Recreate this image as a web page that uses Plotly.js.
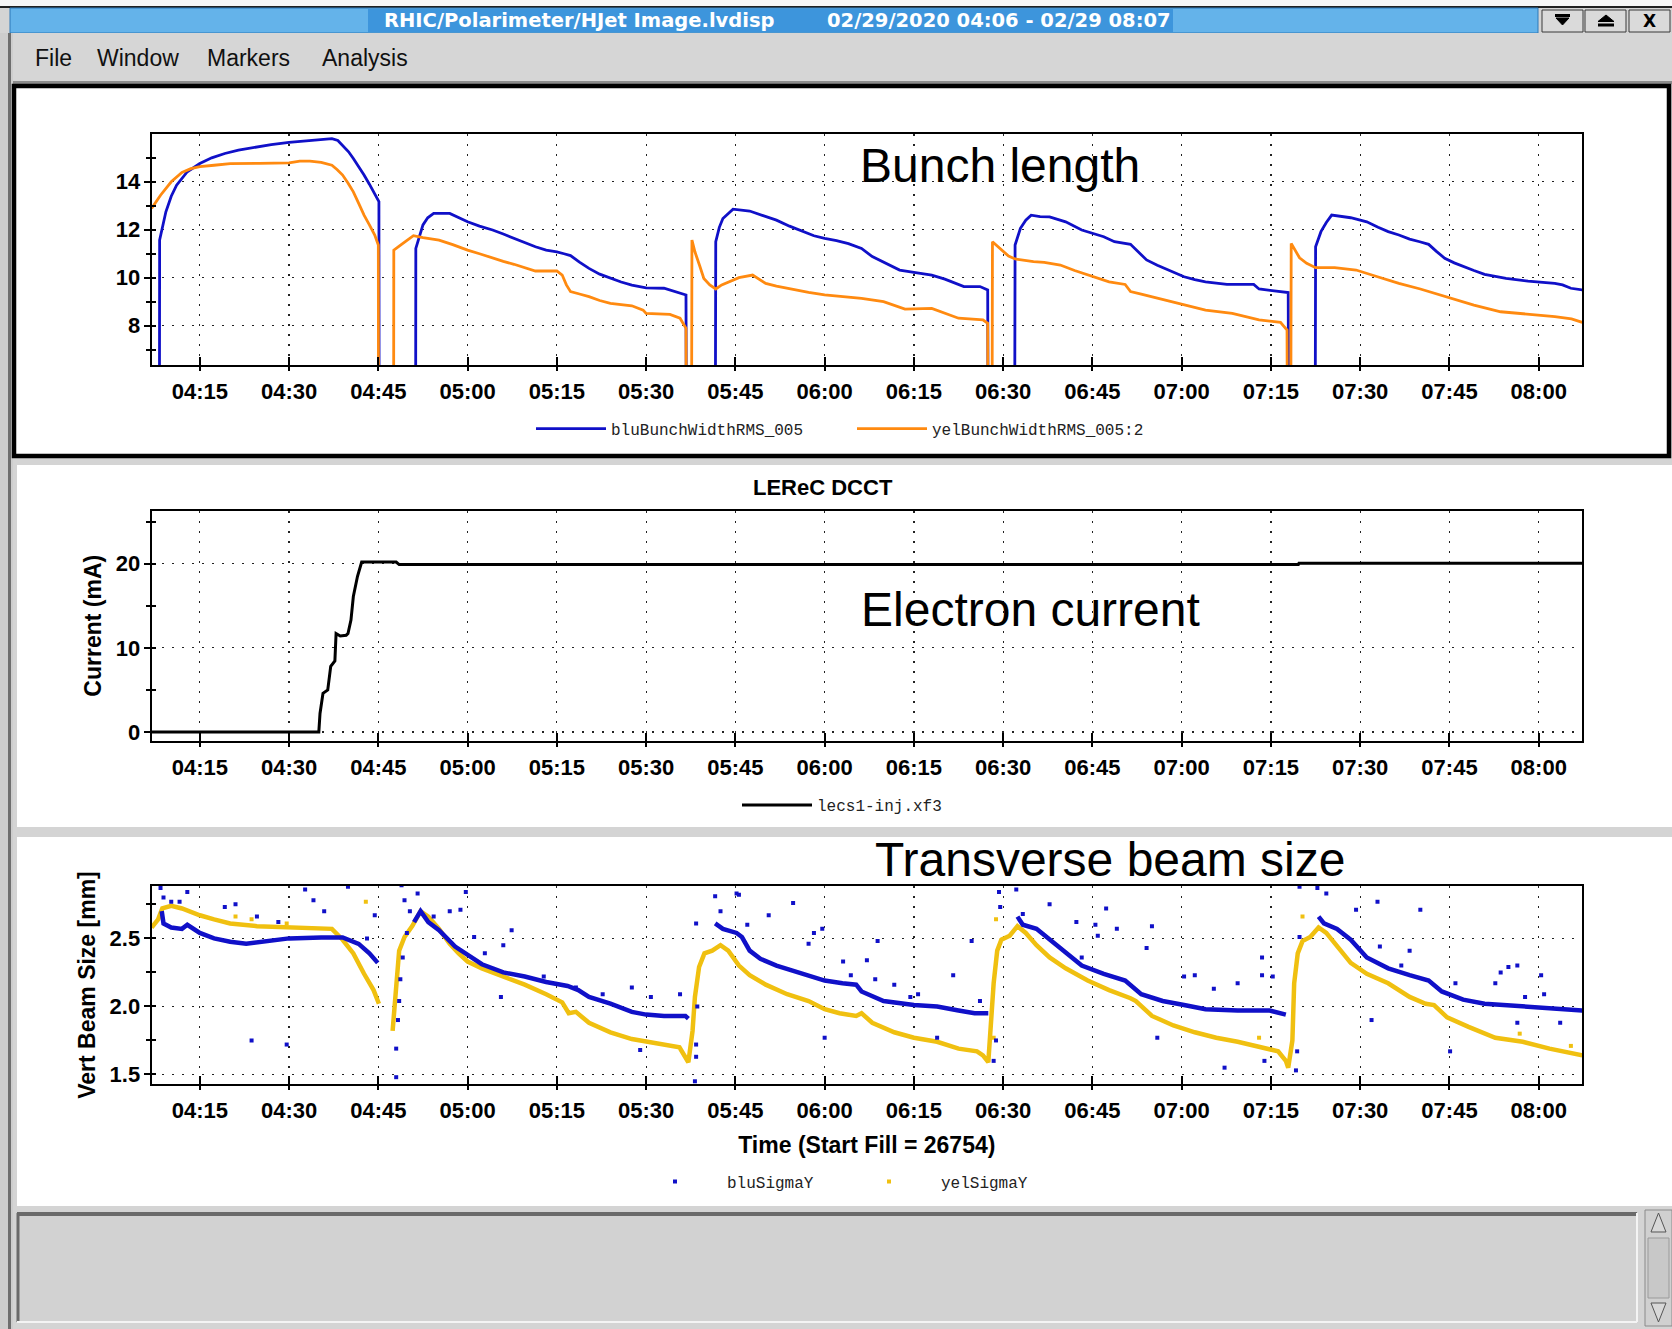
<!DOCTYPE html>
<html><head><meta charset="utf-8">
<script src="https://cdn.plot.ly/plotly-3.0.1.min.js"></script>
<style>html,body{margin:0;padding:0;background:#d4d4d4;}#chart{width:1672px;height:1329px;}</style>
</head><body><div id="chart"></div>
<script>
// ===== DATA (time = minutes after 2020-02-29 04:00) =====
const tickLabels = ['04:15','04:30','04:45','05:00','05:15','05:30','05:45','06:00','06:15','06:30','06:45','07:00','07:15','07:30','07:45','08:00'];

const bluBunchT = [6.9,8.2,8.25,9.3,10.2,11.1,12.9,15,17,19.2,21.5,23.7,27,30,33,35.4,37.2,38.2,39,40,40.8,41.7,42.6,43.5,44.4,45.1,45.15,51.25,51.3,51.8,52.5,53.3,54.3,57,58.5,60,62,64.2,66,67.8,69.6,71.4,73.2,75,76.2,77.3,78.8,80.4,82.2,84,85.8,87.6,90,93,94.8,96.7,96.8,101.6,101.7,102.3,102.9,104.6,107.4,109.6,111.9,114.1,116.4,118.2,120,122,124,126.2,128,130.2,132.6,135,138,140.2,141.8,143.4,146.1,147.4,147.5,151.9,152,152.9,153.8,154.7,156.2,157.8,160.5,163.2,166.9,168.7,171.4,172.8,174.1,175.9,177.7,180.4,182.2,184,187.6,192.1,193,195.3,197.5,197.9,198,202.4,202.5,203.4,204.3,205.2,208.4,211.1,213,214.7,216.5,218.3,220,221.5,222.8,224.2,225.8,227.3,229.1,230.9,232.7,234.5,238.2,240.5,242.7,244,245.4,247.3];
const bluBunchV = [0,0,11.57,12.75,13.4,13.86,14.42,14.76,15.0,15.18,15.32,15.42,15.55,15.64,15.72,15.78,15.8,15.72,15.53,15.25,14.97,14.65,14.28,13.9,13.51,13.17,0,0,11.22,11.6,12.2,12.5,12.68,12.68,12.5,12.33,12.15,11.99,11.82,11.64,11.45,11.29,11.15,11.08,11.0,10.92,10.65,10.39,10.15,9.97,9.82,9.69,9.58,9.56,9.42,9.28,0,0,11.5,12.1,12.47,12.86,12.78,12.6,12.4,12.15,11.92,11.75,11.64,11.55,11.42,11.22,10.88,10.6,10.32,10.22,10.11,9.94,9.78,9.63,9.63,9.49,0,0,11.36,12.06,12.4,12.61,12.55,12.54,12.33,11.99,11.71,11.5,11.39,11.05,10.74,10.52,10.32,10.04,9.92,9.83,9.72,9.72,9.53,9.47,9.42,9.38,0,0,11.29,11.92,12.3,12.61,12.5,12.33,12.1,11.92,11.78,11.61,11.5,11.39,11.1,10.81,10.62,10.46,10.3,10.14,10.05,9.97,9.86,9.82,9.76,9.7,9.56,9.49];

const yelBunchT = [6.9,8.4,10.2,12,13.5,15,17.4,20.1,25,30,31.8,33.5,35.4,37.2,38.1,39,39.9,40.8,41.7,42.6,43.5,44.4,45,45.05,47.55,47.6,48.9,50.9,52.5,55.2,57.5,60,62,64.2,66,67.8,69.6,71.4,75,75.9,76.6,77.3,78.8,80.4,82.2,84,87.6,89.5,90,94,95.7,96.7,96.8,97.6,97.7,98.2,99,99.7,100.7,101.7,102.7,103.8,105.6,107.9,110.1,111.9,113.7,117.3,120,123.5,126.2,129.9,133.5,138,140.2,142.5,146.6,147.4,147.5,148.1,148.2,149.7,150.9,152,155.1,156.9,159.6,162,164.2,167.8,170.5,171.4,173.2,175,179.5,184,188.5,190.8,193,196.6,197.7,197.8,198.3,198.4,199.8,201,202.5,205.7,209.3,212.9,216.5,220.1,224.6,229.1,233.6,238.2,242.7,245.5,247.3];
const yelBunchV = [12.89,13.44,14.0,14.39,14.55,14.63,14.69,14.76,14.77,14.79,14.86,14.86,14.81,14.69,14.5,14.28,13.95,13.58,13.1,12.61,12.2,11.78,11.36,0,0,11.15,11.39,11.75,11.67,11.57,11.38,11.15,11.0,10.81,10.68,10.56,10.42,10.28,10.28,10.11,9.7,9.42,9.32,9.21,9.05,8.93,8.83,8.65,8.51,8.47,8.31,7.89,0,0,11.57,11.08,10.5,9.97,9.7,9.53,9.7,9.81,10.0,10.11,9.76,9.65,9.56,9.39,9.28,9.2,9.14,9.0,8.69,8.72,8.51,8.31,8.24,8.1,0,0,11.5,11.15,10.9,10.78,10.67,10.64,10.53,10.3,10.11,9.83,9.72,9.42,9.32,9.21,8.93,8.65,8.51,8.38,8.24,8.14,7.82,0,0,11.43,10.83,10.6,10.42,10.42,10.32,10.04,9.76,9.53,9.21,8.86,8.58,8.47,8.38,8.28,8.14];

const dcctT = [6.9,35,35.2,35.5,35.7,36.5,37,37.7,37.9,38.6,39.6,39.9,40.4,40.8,41.5,42.2,48,48.5,199.6,199.7,247.3];
const dcctV = [0,0,2.2,3.5,4.6,5.0,7.8,8.45,11.7,11.4,11.5,11.7,13.3,16.1,18.5,20.2,20.2,19.9,19.9,20.05,20.05];

const bluSigmaT = [8.6,8.9,10.2,12,12.9,15,17.4,20.1,22.8,26.4,30,35.4,39,41.7,43.5,44.9,null,
  51.0,52.1,53.4,55.2,57.9,60,62.4,66,69.6,73.2,76.8,78.6,80.4,84,87.6,90,93,96.6,97.1,null,
  101.6,102.9,105.2,106.1,107.4,109.2,111.9,116.4,120,123,125.3,126.2,129.9,135,138.9,142.5,145.2,147.5,null,
  152.4,153.3,155.6,157.8,160.5,163.2,166.9,170.5,173.2,176.8,180.4,184,189.4,194.8,197.5,null,
  203,203.9,206.1,208.4,211.1,214.7,218.3,221.5,223.7,227.3,230.9,234.5,238.2,242.7,247.3];
const bluSigmaV = [2.70,2.61,2.58,2.57,2.6,2.54,2.5,2.475,2.46,2.48,2.5,2.507,2.507,2.46,2.39,2.32,null,
  2.62,2.7,2.62,2.56,2.44,2.38,2.31,2.25,2.22,2.18,2.15,2.12,2.07,2.02,1.96,1.94,1.93,1.93,1.91,null,
  2.61,2.57,2.54,2.51,2.41,2.35,2.3,2.24,2.19,2.17,2.16,2.11,2.04,2.01,2.0,1.97,1.95,1.95,null,
  2.66,2.6,2.57,2.49,2.39,2.3,2.24,2.19,2.09,2.04,2.01,1.98,1.97,1.97,1.94,null,
  2.66,2.61,2.57,2.49,2.36,2.28,2.23,2.19,2.11,2.05,2.02,2.01,2.0,1.98,1.97];

const yelSigmaT = [6.9,8,8.7,10.2,12,15,17.4,20.1,24.6,30,35.4,37.2,39,40.8,42.6,44.2,45.1,null,
  47.4,47.9,48.5,49.4,50.7,52.1,53.4,55.2,57,58.5,60,62.4,66,69.6,73.2,75.9,77,78.2,80.4,84,87.6,90,93,95.6,97.1,
  97.8,98.2,98.9,99.8,101.1,102.5,103.8,105.6,107.4,110.1,113.7,117.3,120,122.5,125.3,126.2,128,131.7,135,138.9,142.5,145.6,146.6,147.5,
  147.9,148.4,149,149.7,151.1,152.4,153.8,155.6,157.8,160.5,164.2,167.8,171.4,172.3,175,178.6,182.2,185.8,189.4,193,196.2,197.5,197.9,
  198.6,198.9,199.5,200.3,201.6,203,204.3,206.1,208.4,211.1,214.7,218.3,221,222.4,224.6,228.2,232.7,237.3,241.8,247.3];
const yelSigmaV = [2.58,2.64,2.72,2.74,2.72,2.67,2.64,2.61,2.59,2.58,2.57,2.57,2.49,2.39,2.24,2.12,2.02,null,
  1.82,2.14,2.41,2.51,2.59,2.7,2.66,2.57,2.46,2.39,2.33,2.28,2.22,2.16,2.09,2.03,1.95,1.96,1.88,1.81,1.76,1.74,1.72,1.7,1.59,
  1.82,2.07,2.29,2.39,2.41,2.45,2.41,2.3,2.23,2.16,2.09,2.04,1.98,1.95,1.93,1.95,1.88,1.81,1.77,1.74,1.69,1.67,1.64,1.59,
  1.9,2.17,2.41,2.49,2.52,2.59,2.54,2.45,2.36,2.28,2.19,2.12,2.06,2.04,1.93,1.86,1.81,1.77,1.74,1.7,1.67,1.6,1.55,
  1.75,2.17,2.39,2.48,2.51,2.58,2.54,2.44,2.32,2.24,2.17,2.07,2.02,2.01,1.92,1.85,1.77,1.74,1.69,1.64];

const bluOutT = [8.4,8.9,10.2,11.6,12.9,19.2,21,23.7,24.6,28.2,29.6,32.7,34.1,35.9,39.9,43.1,44.4,48,48,48.3,48.5,48.7,48.9,49.1,49.4,49.8,50.3,51.6,54.3,57,58.8,59.7,61.1,62.9,65.6,66,67.4,72.8,78.2,82.7,87.6,89,90.8,95.7,98.4,98.4,98.4,98.2,98.6,101.6,102.5,105.2,105.6,107,110.6,114.7,117.3,118.2,120,119.6,
  123.1,124.4,127.1,128.9,128.5,131.7,134.4,135.7,138.9,141.6,144.7,146.1,148.8,148.4,149.3,149.5,152.2,153.3,157.8,162.3,163.2,165.5,165.9,167.3,169.1,174.1,175,175.9,180.4,182.2,185.4,187.2,189.4,193.5,193.5,193.9,195.3,199.4,199.2,199.8,199.8,202.8,204.3,209.3,212.9,211.9,213.3,216.9,218.3,220.1,225.1,226,232.7,233.6,234.9,236.4,236.4,237.7,240.4,240.9,243.6];
const bluOutV = [2.87,2.80,2.77,2.77,2.84,2.73,2.75,1.75,2.66,2.62,1.72,2.86,2.78,2.70,2.88,2.5,2.67,1.69,1.48,1.9,2.04,2.2,2.89,2.36,2.78,2.54,2.7,2.83,2.66,2.7,2.71,2.84,2.51,2.39,2.07,2.45,2.56,2.22,2.14,2.09,2.14,1.68,2.07,2.09,2.61,1.72,1.63,1.45,2.0,2.81,2.7,2.83,2.82,2.6,2.67,2.76,2.46,2.54,1.77,2.57,
  2.33,2.23,2.34,2.48,2.2,2.16,2.07,2.09,1.77,2.23,2.48,2.04,1.75,1.6,2.84,2.73,2.86,2.68,2.75,2.62,2.36,2.60,2.52,2.72,2.57,2.43,2.59,1.77,2.22,2.23,2.13,1.55,2.17,2.36,2.23,1.6,2.22,1.67,1.53,2.88,2.51,2.87,2.83,2.71,2.77,1.9,2.44,2.30,2.41,2.71,1.67,2.17,2.17,2.25,2.29,2.30,1.88,2.07,2.23,2.09,1.88];

const yelOutT = [21,23.7,29.6,42.9,148.8,148.4,193,200.3,236.8,245.4];
const yelOutV = [2.66,2.64,2.61,2.77,2.64,1.77,1.77,2.66,1.80,1.71];

// ===== helpers =====
const W = 1672, H = 1329;
const fx = x => x / W, fy = y => 1 - y / H;
const pad2 = n => String(n).padStart(2, '0');
function tt(m) {
  if (m === null) return null;
  const s = Math.round(m * 60);
  return '2020-02-29 ' + pad2(4 + Math.floor(s / 3600)) + ':' + pad2(Math.floor(s % 3600 / 60)) + ':' + pad2(s % 60);
}
const SANS = 'Liberation Sans, Arial, sans-serif';
const MONO = 'Liberation Mono, DejaVu Sans Mono, monospace';
const BLUE = '#1010c8', ORANGE = '#ff8a10', YELLOW = '#f0c010';

const tickVals = tickLabels.map(l => '2020-02-29 ' + l);
const xRange = [tt(6.9), tt(247.26)];
const xDom = [fx(151.6), fx(1582)];
const tickFont = {family: SANS, size: 22, color: '#000', weight: 'bold'};

function xAxis(anchor, extra) {
  return Object.assign({
    type: 'date', range: xRange, domain: xDom, anchor: anchor,
    tickvals: tickVals, ticktext: tickLabels,
    ticks: 'outside', ticklen: 4, tickwidth: 2, tickcolor: '#000',
    showgrid: true, gridcolor: '#222', gridwidth: 1.2, griddash: '2px,8px',
    showline: true, linecolor: '#000', linewidth: 2, mirror: true, zeroline: false,
    tickfont: tickFont, ticklabelstandoff: 2, fixedrange: true
  }, extra || {});
}
function yAxis(anchor, range, dom, dtick, minor, extra) {
  return Object.assign({
    range: range, domain: dom, anchor: anchor, dtick: dtick, tick0: 0,
    ticks: 'outside', ticklen: 6, tickwidth: 2, tickcolor: '#000',
    minor: {dtick: minor, ticks: 'outside', ticklen: 4, tickwidth: 2, tickcolor: '#000', showgrid: false},
    showgrid: true, gridcolor: '#222', gridwidth: 1.2, griddash: '2px,8px',
    showline: true, linecolor: '#000', linewidth: 2, mirror: true, zeroline: false,
    tickfont: tickFont, ticklabelstandoff: -1, fixedrange: true
  }, extra || {});
}
// inner halves of the crossing tick marks (overlay axes, no labels)
function xIn(over, anchor) {
  return {type: 'date', range: xRange, overlaying: over, anchor: anchor, tickvals: tickVals,
    ticks: 'inside', ticklen: 8, tickwidth: 2, tickcolor: '#000', showticklabels: false,
    showgrid: false, showline: false, zeroline: false, fixedrange: true};
}
function yIn(over, anchor, range, dtick, minor) {
  return {range: range, overlaying: over, anchor: anchor, dtick: dtick, tick0: 0,
    ticks: 'inside', ticklen: 4, tickwidth: 2, tickcolor: '#000', showticklabels: false,
    minor: {dtick: minor, ticks: 'inside', ticklen: 4, tickwidth: 2, tickcolor: '#000', showgrid: false},
    showgrid: false, showline: false, zeroline: false, fixedrange: true};
}
const R1 = [6.36, 15.98], R2 = [-1.04, 26.3], R3 = [1.43, 2.885];

// ===== traces =====
const traces = [
  {x: bluBunchT.map(tt), y: bluBunchV, xaxis: 'x', yaxis: 'y', type: 'scatter', mode: 'lines',
   name: 'bluBunchWidthRMS_005', line: {color: BLUE, width: 2.8}, legend: 'legend'},
  {x: yelBunchT.map(tt), y: yelBunchV, xaxis: 'x', yaxis: 'y', type: 'scatter', mode: 'lines',
   name: 'yelBunchWidthRMS_005:2', line: {color: ORANGE, width: 2.8}, legend: 'legend'},
  {x: dcctT.map(tt), y: dcctV, xaxis: 'x2', yaxis: 'y2', type: 'scatter', mode: 'lines',
   name: 'lecs1-inj.xf3', line: {color: '#000', width: 3}, legend: 'legend2'},
  {x: yelSigmaT.map(tt), y: yelSigmaV, xaxis: 'x3', yaxis: 'y3', type: 'scatter', mode: 'lines',
   line: {color: YELLOW, width: 4.5}, showlegend: false, hoverinfo: 'skip'},
  {x: yelOutT.map(tt), y: yelOutV, xaxis: 'x3', yaxis: 'y3', type: 'scatter', mode: 'markers',
   name: 'yelSigmaY', marker: {color: YELLOW, size: 4, symbol: 'square'}, legend: 'legend3', legendrank: 2},
  {x: bluSigmaT.map(tt), y: bluSigmaV, xaxis: 'x3', yaxis: 'y3', type: 'scatter', mode: 'lines',
   line: {color: BLUE, width: 4.5}, showlegend: false, hoverinfo: 'skip'},
  {x: bluOutT.map(tt), y: bluOutV, xaxis: 'x3', yaxis: 'y3', type: 'scatter', mode: 'markers',
   name: 'bluSigmaY', marker: {color: BLUE, size: 4, symbol: 'square'}, legend: 'legend3', legendrank: 1},
  // empty carriers for the overlay tick axes
  {x: [], y: [], xaxis: 'x4', yaxis: 'y4', type: 'scatter', mode: 'lines', showlegend: false, hoverinfo: 'skip'},
  {x: [], y: [], xaxis: 'x5', yaxis: 'y5', type: 'scatter', mode: 'lines', showlegend: false, hoverinfo: 'skip'},
  {x: [], y: [], xaxis: 'x6', yaxis: 'y6', type: 'scatter', mode: 'lines', showlegend: false, hoverinfo: 'skip'}
];

// ===== window chrome =====
const shapes = [];
function rect(x0, y0, x1, y1, fill, lc, lw) {
  shapes.push({type: 'rect', xref: 'paper', yref: 'paper', layer: 'below',
    x0: fx(x0), x1: fx(x1), y0: fy(y1), y1: fy(y0), fillcolor: fill,
    line: {color: lc || fill, width: lw || 0}});
}
function seg(x0, y0, x1, y1, c, w) {
  shapes.push({type: 'line', xref: 'paper', yref: 'paper', layer: 'below',
    x0: fx(x0), x1: fx(x1), y0: fy(y0), y1: fy(y1), line: {color: c, width: w}});
}
function poly(pts, fill, lc) {
  const d = pts.map((p, i) => (i ? 'L' : 'M') + fx(p[0]).toFixed(5) + ',' + fy(p[1]).toFixed(5)).join(' ') + ' Z';
  shapes.push({type: 'path', xref: 'paper', yref: 'paper', layer: 'above', path: d,
    fillcolor: fill, line: {color: lc || fill, width: 1}});
}
// top strip + title bar
rect(0, 0, 1672, 6, '#f6f6f6');
rect(0, 6, 1672, 8, '#202020');
rect(10, 8, 1538, 33, '#64b3ea', '#2d78b8', 1);
rect(368, 9, 1173, 32, '#3d95dc');
// buttons
rect(1542, 10, 1583, 32, '#dadada', '#3a3a3a', 1);
rect(1585, 10, 1626, 32, '#dadada', '#3a3a3a', 1);
rect(1629, 10, 1670, 32, '#dadada', '#3a3a3a', 1);
rect(1555, 14, 1570, 17, '#000');
poly([[1556, 18], [1569, 18], [1562.5, 25]], '#000');
poly([[1598, 21.5], [1614, 21.5], [1606, 15]], '#000');
rect(1598, 23.5, 1614, 26.5, '#000');
// menu bar
rect(0, 33, 1672, 81, '#d6d6d6');
rect(0, 81, 1672, 84, '#8c8c8c');
// left frame
rect(0, 33, 13, 1329, '#cdcdcd');
rect(8, 33, 11, 1329, '#6e6e6e');
// panels
rect(14, 86, 1669, 456, '#ffffff', '#000000', 4.5);
rect(17, 465, 1672, 827, '#ffffff');
rect(17, 837, 1672, 1206, '#ffffff');
// bottom inset area
rect(17, 1213, 1637, 1322, '#d2d2d2');
seg(17, 1214, 1637, 1214, '#6a6a6a', 4);
seg(18, 1213, 18, 1322, '#6a6a6a', 3);
seg(17, 1322, 1637, 1322, '#f4f4f4', 2);
seg(1637, 1213, 1637, 1322, '#f4f4f4', 2);
// scrollbar
rect(1645, 1210, 1672, 1326, '#d0d0d0', '#8a8a8a', 1);
rect(1648, 1238, 1669, 1298, '#c8c8c8', '#9a9a9a', 1);
poly([[1651, 1232], [1666, 1232], [1658.5, 1213]], '#d8d8d8', '#555');
poly([[1651, 1303], [1666, 1303], [1658.5, 1322]], '#d8d8d8', '#555');

// ===== annotations =====
const ann = [];
function txt(text, x, y, opt) {
  ann.push(Object.assign({text: text, x: fx(x), y: fy(y), xref: 'paper', yref: 'paper', showarrow: false,
    xanchor: 'center', yanchor: 'middle', font: {family: SANS, size: 22, color: '#000'}}, opt || {}));
}
const tb = {family: 'DejaVu Sans, sans-serif', size: 19.5, color: '#ffffff', weight: 'bold'};
txt('RHIC/Polarimeter/HJet Image.lvdisp', 579, 21, {font: tb});
txt('02/29/2020 04:06 - 02/29 08:07', 999, 21, {font: tb});
txt('X', 1649.5, 21.5, {font: {family: 'DejaVu Sans, sans-serif', size: 17, color: '#000', weight: 'bold'}});
const mf = {family: SANS, size: 23, color: '#111'};
txt('File', 33, 58, {xanchor: 'left', font: mf});
txt('Window', 95, 58, {xanchor: 'left', font: mf});
txt('Markers', 205, 58, {xanchor: 'left', font: mf});
txt('Analysis', 320, 58, {xanchor: 'left', font: mf});
const big = {family: SANS, size: 48, color: '#000'};
txt('Bunch length', 858, 165, {xanchor: 'left', font: big});
txt('Electron current', 859, 609, {xanchor: 'left', font: big});
txt('Transverse beam size', 873, 859, {xanchor: 'left', font: big});
txt('LEReC DCCT', 823, 488, {font: {family: SANS, size: 22, color: '#000', weight: 'bold'}});

// ===== layout =====
const legFont = {family: MONO, size: 16, color: '#222'};
const layout = {
  width: W, height: H, margin: {l: 0, r: 0, t: 0, b: 0},
  paper_bgcolor: '#d4d4d4', plot_bgcolor: '#ffffff',
  showlegend: true, hovermode: false,
  xaxis: xAxis('y'),
  yaxis: yAxis('x', R1, [fy(365), fy(134.3)], 2, 1),
  xaxis2: xAxis('y2'),
  yaxis2: yAxis('x2', R2, [fy(740.7), fy(510.7)], 10, 5,
    {title: {text: 'Current (mA)', standoff: 8, font: {family: SANS, size: 23, color: '#000', weight: 'bold'}}}),
  xaxis3: xAxis('y3', {title: {text: 'Time (Start Fill = 26754)', standoff: 14,
    font: {family: SANS, size: 23, color: '#000', weight: 'bold'}}}),
  yaxis3: yAxis('x3', R3, [fy(1084), fy(886)], 0.5, 0.25,
    {tickformat: '.1f', title: {text: 'Vert Beam Size [mm]', standoff: 8, font: {family: SANS, size: 23, color: '#000', weight: 'bold'}}}),
  xaxis4: xIn('x', 'y4'), yaxis4: yIn('y', 'x4', R1, 2, 1),
  xaxis5: xIn('x2', 'y5'), yaxis5: yIn('y2', 'x5', R2, 10, 5),
  xaxis6: xIn('x3', 'y6'), yaxis6: yIn('y3', 'x6', R3, 0.5, 0.25),
  legend: {orientation: 'h', x: fx(531), y: fy(428.7), xanchor: 'left', yanchor: 'middle',
    font: legFont, bgcolor: 'rgba(0,0,0,0)', itemwidth: 70, entrywidth: 236, entrywidthmode: 'pixels', traceorder: 'normal'},
  legend2: {orientation: 'h', x: fx(737), y: fy(805), xanchor: 'left', yanchor: 'middle',
    font: legFont, bgcolor: 'rgba(0,0,0,0)', itemwidth: 70},
  legend3: {orientation: 'h', x: fx(623), y: fy(1181.5), xanchor: 'left', yanchor: 'middle',
    font: legFont, bgcolor: 'rgba(0,0,0,0)', itemwidth: 94, entrywidth: 105, entrywidthmode: 'pixels', traceorder: 'normal'},
  shapes: shapes, annotations: ann
};

Plotly.newPlot('chart', traces, layout, {displayModeBar: false, staticPlot: true});
</script></body></html>
